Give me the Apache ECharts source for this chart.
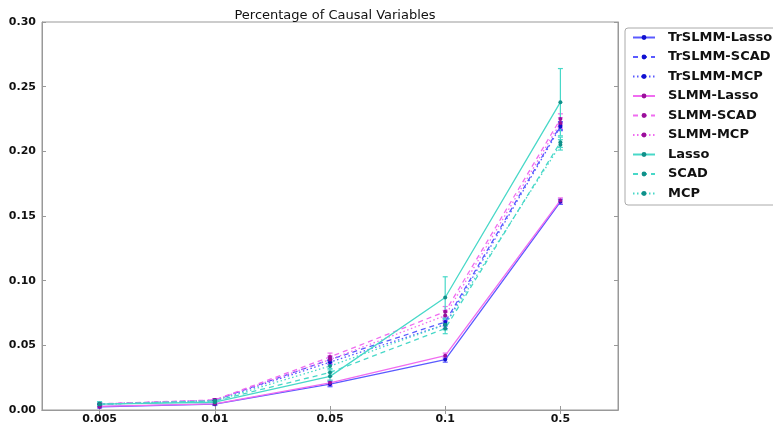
<!DOCTYPE html>
<html>
<head>
<meta charset="utf-8">
<script src="https://cdn.jsdelivr.net/npm/echarts@6/dist/echarts.min.js"></script>
<style>html,body{margin:0;padding:0;background:#fff}#c{width:773px;height:430px}</style>
</head>
<body>
<div id="c"></div>
<script>
// ---- data ----
const categories = ['0.005', '0.01', '0.05', '0.1', '0.5'];
const yTicks = ['0.00', '0.05', '0.10', '0.15', '0.20', '0.25', '0.30'];

const trslmmLasso = [0.0025, 0.0045, 0.020, 0.039, 0.161];
const trslmmScad  = [0.0045, 0.0075, 0.039, 0.068, 0.220];
const trslmmMcp   = [0.0045, 0.0075, 0.037, 0.066, 0.219];
const slmmLasso   = [0.0028, 0.0048, 0.021, 0.042, 0.162];
const slmmScad    = [0.0048, 0.0078, 0.041, 0.076, 0.225];
const slmmMcp     = [0.0046, 0.0076, 0.039, 0.073, 0.222];
const lasso       = [0.0045, 0.0060, 0.026, 0.087, 0.238];
const scad        = [0.0045, 0.0070, 0.029, 0.063, 0.207];
const mcp         = [0.0045, 0.0070, 0.034, 0.066, 0.205];

const trslmmLassoErr = [0.001, 0.001, 0.002, 0.002, 0.002];
const trslmmScadErr  = [0.001, 0.001, 0.002, 0.003, 0.003];
const trslmmMcpErr   = [0.001, 0.001, 0.002, 0.003, 0.003];
const slmmLassoErr   = [0.001, 0.001, 0.002, 0.002, 0.002];
const slmmScadErr    = [0.001, 0.001, 0.003, 0.004, 0.004];
const slmmMcpErr     = [0.001, 0.001, 0.003, 0.004, 0.004];
const lassoErr       = [0.002, 0.002, 0.003, 0.016, 0.026];
const scadErr        = [0.001, 0.001, 0.003, 0.004, 0.004];
const mcpErr         = [0.001, 0.001, 0.003, 0.004, 0.004];

const seriesNames = ['TrSLMM-Lasso', 'TrSLMM-SCAD', 'TrSLMM-MCP',
                     'SLMM-Lasso', 'SLMM-SCAD', 'SLMM-MCP',
                     'Lasso', 'SCAD', 'MCP'];
const seriesValues = [trslmmLasso, trslmmScad, trslmmMcp, slmmLasso, slmmScad, slmmMcp, lasso, scad, mcp];
const seriesErrors = [trslmmLassoErr, trslmmScadErr, trslmmMcpErr, slmmLassoErr, slmmScadErr, slmmMcpErr, lassoErr, scadErr, mcpErr];

// ---- styles ----
const lineColors = ['#5a5aff', '#5a5aff', '#5a5aff', '#f06cf0', '#f06cf0', '#f06cf0', '#48d8c8', '#48d8c8', '#48d8c8'];
const markColors = ['#1010d0', '#1010d0', '#1010d0', '#9a109a', '#9a109a', '#9a109a', '#10908a', '#10908a', '#10908a'];
const dashes = ['solid', [5, 4], [1.5, 2.5], 'solid', [5, 4], [1.5, 2.5], 'solid', [5, 4], [1.5, 2.5]];

const FONT = 'DejaVu Sans';

const series = [];
seriesNames.forEach((name, i) => {
  series.push({
    name: name,
    type: 'line',
    data: seriesValues[i],
    symbol: 'circle',
    symbolSize: 4,
    showAllSymbol: true,
    itemStyle: { color: markColors[i] },
    lineStyle: { color: lineColors[i], width: 1.3, type: dashes[i] },
    emphasis: { disabled: true },
    animation: false,
    z: 3
  });
});
seriesNames.forEach((name, i) => {
  const col = lineColors[i];
  series.push({
    name: name + ' err',
    type: 'custom',
    data: seriesValues[i].map((v, k) => [k, v - seriesErrors[i][k], v + seriesErrors[i][k]]),
    encode: { x: 0, y: [1, 2] },
    renderItem: function (params, api) {
      const x = api.value(0);
      const top = api.coord([x, api.value(2)]);
      const bot = api.coord([x, api.value(1)]);
      const w = 2.5;
      const st = { stroke: col, lineWidth: 1.2 };
      return {
        type: 'group',
        children: [
          { type: 'line', shape: { x1: top[0], y1: top[1], x2: bot[0], y2: bot[1] }, style: st },
          { type: 'line', shape: { x1: top[0] - w, y1: top[1], x2: top[0] + w, y2: top[1] }, style: st },
          { type: 'line', shape: { x1: bot[0] - w, y1: bot[1], x2: bot[0] + w, y2: bot[1] }, style: st }
        ]
      };
    },
    animation: false,
    silent: true,
    z: 2
  });
});

const chart = echarts.init(document.getElementById('c'), null, { renderer: 'canvas' });
chart.setOption({
  backgroundColor: '#fff',
  animation: false,
  title: {
    text: 'Percentage of Causal Variables',
    left: 330, top: 4, textAlign: 'center',
    textStyle: { fontFamily: FONT, fontSize: 13, fontWeight: 'normal', color: '#111' }
  },
  grid: { left: 42, right: 155, top: 22, bottom: 20, show: true, borderColor: '#999', borderWidth: 1, containLabel: false },
  legend: {
    data: seriesNames,
    orient: 'vertical',
    left: 625, top: 28,
    padding: [3, 40, 5, 7],
    itemWidth: 22, itemHeight: 6, itemGap: 6.5,
    borderColor: '#aaa', borderWidth: 1, borderRadius: 3,
    backgroundColor: '#fff',
    textStyle: { fontFamily: FONT, fontSize: 13, fontWeight: 'bold', color: '#111', padding: [0, 0, 0, 8] }
  },
  xAxis: [{
    type: 'category',
    data: categories,
    boundaryGap: true,
    axisLine: { show: true, lineStyle: { color: '#999' } },
    axisTick: { show: true, inside: true, alignWithLabel: true, length: 4, lineStyle: { color: '#999' } },
    axisLabel: { fontFamily: FONT, fontSize: 11, fontWeight: 'bold', color: '#111', margin: 4 },
    splitLine: { show: false }
  }, {
    type: 'category',
    data: categories,
    position: 'top',
    boundaryGap: true,
    axisLine: { show: true, lineStyle: { color: '#999' } },
    axisTick: { show: true, inside: true, alignWithLabel: true, length: 4, lineStyle: { color: '#999' } },
    axisLabel: { show: false },
    splitLine: { show: false }
  }],
  yAxis: [{
    type: 'value',
    min: 0, max: 0.30, interval: 0.05,
    axisLine: { show: true, lineStyle: { color: '#999' } },
    axisTick: { show: true, inside: true, length: 4, lineStyle: { color: '#999' } },
    axisLabel: {
      fontFamily: FONT, fontSize: 11, fontWeight: 'bold', color: '#111', margin: 6,
      formatter: function (v) { return yTicks[Math.round(v / 0.05)]; }
    },
    splitLine: { show: false }
  }, {
    type: 'value',
    min: 0, max: 0.30, interval: 0.05,
    position: 'right',
    axisLine: { show: true, lineStyle: { color: '#999' } },
    axisTick: { show: true, inside: true, length: 4, lineStyle: { color: '#999' } },
    axisLabel: { show: false },
    splitLine: { show: false }
  }],
  series: series
});
</script>
</body>
</html>
